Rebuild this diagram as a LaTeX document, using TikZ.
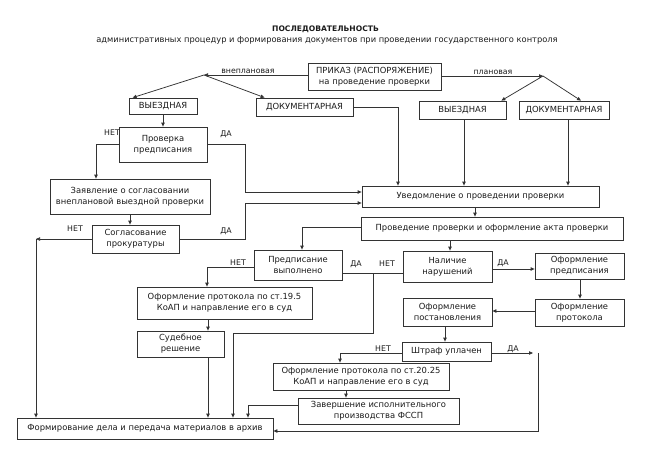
\documentclass[tikz,border=0pt]{standalone}
\usepackage{fontspec}
\setmainfont{DejaVu Sans}
\usetikzlibrary{arrows.meta,calc}
\definecolor{linec}{HTML}{333333}
\definecolor{txtc}{HTML}{1C1C1C}
\begin{document}
\begin{tikzpicture}[x=1pt,y=-1pt,
  box/.style={draw=linec, line width=0.75pt, inner sep=0pt, align=center, text=txtc,
              font=\fontsize{8.4}{10.8}\selectfont},
  lab/.style={inner sep=0pt, text=txtc, font=\fontsize{7.8}{9}\selectfont},
  conn/.style={draw=linec, line width=0.75pt},
  arr/.style={conn, -{Triangle[length=4pt,width=3.4pt]}}]
\fill[white] (0,0) rectangle (651,467);
\useasboundingbox (0,0) rectangle (651,467);

% titles
\node[lab, font=\fontsize{7.6}{9}\selectfont\bfseries] (title) at (325.5,29) {ПОСЛЕДОВАТЕЛЬНОСТЬ};
\node[lab, font=\fontsize{8.3}{9}\selectfont] (subtitle) at (327,40) {административных процедур и формирования документов при проведении государственного контроля};

% boxes
\node[box, minimum width=133pt, minimum height=27pt] (prikaz) at (374.5,76.5) {ПРИКАЗ (РАСПОРЯЖЕНИЕ)\\на проведение проверки};
\coordinate (ptL) at (204,75);
\coordinate (ptR) at (543,76);
\node[box, minimum width=68pt, minimum height=16pt] (vyezdL) at (163,106) {ВЫЕЗДНАЯ};
\node[box, minimum width=97pt, minimum height=18pt] (dokL) at (304.5,107) {ДОКУМЕНТАРНАЯ};
\node[box, minimum width=87pt, minimum height=18pt] (vyezdR) at (462.5,110) {ВЫЕЗДНАЯ};
\node[box, minimum width=90pt, minimum height=18pt] (dokR) at (564,110) {ДОКУМЕНТАРНАЯ};
\node[box, minimum width=88pt, minimum height=35pt] (proverka) at (163,144.5) {Проверка\\предписания};
\node[box, minimum width=160pt, minimum height=35pt] (zayavl) at (130,196.5) {Заявление о согласовании\\внеплановой выездной проверки};
\node[box, minimum width=87pt, minimum height=28pt] (soglas) at (135.5,239) {Согласование\\прокуратуры};
\node[box, minimum width=237pt, minimum height=21pt] (uved) at (480.5,196.5) {Уведомление о проведении проверки};
\node[box, minimum width=262pt, minimum height=23pt] (proved) at (492,228.5) {Проведение проверки и оформление акта проверки};
\node[box, minimum width=88pt, minimum height=30pt] (predvyp) at (298,265) {Предписание\\выполнено};
\node[box, minimum width=89pt, minimum height=31pt] (nalich) at (447.5,266.5) {Наличие\\нарушений};
\node[box, minimum width=89pt, minimum height=26pt] (oformpred) at (579.5,266) {Оформление\\предписания};
\node[box, minimum width=89pt, minimum height=27pt] (oformprot) at (579.5,312.5) {Оформление\\протокола};
\node[box, minimum width=89pt, minimum height=28pt] (oformpost) at (447.5,312) {Оформление\\постановления};
\node[box, minimum width=89pt, minimum height=19pt] (shtraf) at (446.5,351.5) {Штраф уплачен};
\node[box, minimum width=175pt, minimum height=32pt] (prot195) at (224.5,303) {Оформление протокола по ст.19.5\\КоАП и направление его в суд};
\node[box, minimum width=87pt, minimum height=26pt] (sud) at (180.5,344) {Судебное\\решение};
\node[box, minimum width=176pt, minimum height=27pt] (prot2025) at (361,376.5) {Оформление протокола по ст.20.25\\КоАП и направление его в суд};
\node[box, minimum width=161pt, minimum height=26pt] (zaversh) at (378.5,411) {Завершение исполнительного\\производства ФССП};
\node[box, minimum width=256pt, minimum height=21pt] (formir) at (145,428.5) {Формирование дела и передача материалов в архив};

% lane coordinates
\coordinate (xNet1) at (96,0);
\coordinate (xDa1) at (245,0);
\coordinate (xLeft) at (36,239);
\coordinate (xDok) at (398,0);
\coordinate (xVR) at (464,0);
\coordinate (xDR) at (568,0);
\coordinate (xUv) at (475,0);
\coordinate (xPr) at (302,0);
\coordinate (xPv) at (450,0);
\coordinate (xNet3) at (207,0);
\coordinate (xDown) at (373,273);
\coordinate (xArch) at (233,333);
\coordinate (xSud) at (208,0);
\coordinate (xNet4) at (340,0);
\coordinate (xRight) at (538,353);
\coordinate (xZav) at (248,0);
\coordinate (xP20) at (346,0);
\coordinate (xOf) at (580,0);
\coordinate (xPost) at (445,0);

% top connectors
\draw[arr] (prikaz.west |- ptL) -- (ptL);
\draw[arr] (prikaz.east |- ptR) -- (ptR);
\node[lab] (lvn) at (248,71) {внеплановая};
\node[lab] (lpl) at (493,72) {плановая};
\draw[arr] (ptL) -- ($(vyezdL.north west)+(4,0)$);
\draw[arr] (ptL) -- ($(dokL.north west)+(9,0)$);
\draw[arr] (ptR) -- ($(vyezdR.north east)+(-5,0)$);
\draw[arr] (ptR) -- ($(dokR.north)+(17,0)$);

% left column
\draw[arr] (vyezdL.south) -- (proverka.north);
\draw[arr] (proverka.west) -| (xNet1 |- zayavl.north);
\node[lab] (lnet1) at (112,133) {НЕТ};
\draw[arr] (proverka.east) -| (xDa1 |- 0,192) -- ($(uved.west |- 0,192)$);
\node[lab] (lda1) at (226,134) {ДА};
\draw[arr] (zayavl.south) -- (soglas.north -| zayavl.south);
\draw[arr] (soglas.west) -- (xLeft);
\draw[arr] (xLeft) -- (xLeft |- formir.north);
\node[lab] (lnet2) at (75,229) {НЕТ};
\draw[arr] (soglas.east) -| (xDa1 |- 0,203) -- (uved.west |- 0,203);
\node[lab] (lda2) at (226,231) {ДА};

% into Уведомление
\draw[arr] (dokL.east) -| (xDok |- uved.north);
\draw[arr] (xVR |- vyezdR.south) -- (xVR |- uved.north);
\draw[arr] (xDR |- dokR.south) -- (xDR |- uved.north);
\draw[arr] (xUv |- uved.south) -- (xUv |- proved.north);

% middle
\draw[arr] (proved.west |- 0,227) -| (xPr |- predvyp.north);
\draw[arr] (xPv |- proved.south) -- (xPv |- nalich.north);
\draw[arr] (predvyp.west |- 0,267) -| (xNet3 |- prot195.north);
\node[lab] (lnet3) at (238,263) {НЕТ};
\draw[conn] (predvyp.east |- xDown) -- (nalich.west |- xDown);
\node[lab] (lda3) at (356,264) {ДА};
\node[lab] (lnet5) at (387,264) {НЕТ};
\draw[arr] (xDown) |- (xArch) -- (xArch |- formir.north);
\draw[arr] (nalich.east |- 0,269) -- (oformpred.west |- 0,269);
\node[lab] (lda4) at (503,263) {ДА};
\draw[arr] (xOf |- oformpred.south) -- (xOf |- oformprot.north);
\draw[arr] (oformprot.west |- 0,311) -- (oformpost.east |- 0,311);
\draw[arr] (xPost |- oformpost.south) -- (xPost |- shtraf.north);

% lower left
\draw[arr] (xSud |- prot195.south) -- (xSud |- sud.north);
\draw[arr] (xSud |- sud.south) -- (xSud |- formir.north);

% lower right
\draw[arr] (shtraf.west |- 0,353) -| (xNet4 |- prot2025.north);
\node[lab] (lnet4) at (383,349) {НЕТ};
\draw[arr] (shtraf.east |- xRight) -- ($(xRight)+(-5,0)$);
\draw[arr] (xRight) |- (formir.east |- 0,431);
\node[lab] (lda5) at (513,349) {ДА};
\draw[arr] (xP20 |- prot2025.south) -- (xP20 |- zaversh.north);
\draw[arr] (zaversh.west |- 0,405) -| (xZav |- formir.north);
\end{tikzpicture}
\end{document}
